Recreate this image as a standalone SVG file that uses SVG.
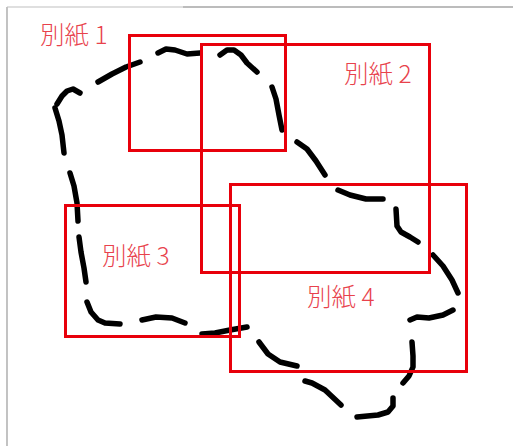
<svg xmlns="http://www.w3.org/2000/svg" width="513" height="446" viewBox="0 0 513 446">
<style>
.frame{stroke:#9a9a9a;stroke-width:1.2;fill:none}
.blob path{fill:none;stroke:#000;stroke-width:5.5;stroke-linecap:round;stroke-linejoin:round}
.sheet rect{fill:none;stroke:#e8000b;stroke-width:3}
.lbl{font-family:"Noto Sans CJK JP","Liberation Sans",sans-serif;font-size:24.5px;fill:#e8424c;font-weight:300}
</style>
<rect width="513" height="446" fill="#fff"/>
<g id="frame">
<line class="frame" x1="7" y1="7" x2="7" y2="446"/>
<line class="frame" x1="7" y1="7" x2="183" y2="7" style="stroke:#c0c0c0"/>
<line class="frame" x1="183" y1="7" x2="513" y2="7" style="stroke:#7a7a7a"/>
</g>
<g id="outline" class="blob">
<path d="M57,104 L62,96 L67,91 L73,89 L80,93"/>
<path d="M55,108 L59,121 L62,135 L64,153"/>
<path d="M70,173 L74,186 L77,203 L78,221"/>
<path d="M79,237 L81,252 L84,268 L86,282"/>
<path d="M87,302 L91,312 L98,320 L105,323 L120,324"/>
<path d="M142,320 L156,317 L172,318 L185,323"/>
<path d="M202,334 L215,333 L230,330 L247,327"/>
<path d="M259,342 L268,354 L280,362 L297,366"/>
<path d="M305,381 L312,383 L325,390 L341,405"/>
<path d="M357,417 L378,415 L388,412 L393,406 L393,398"/>
<path d="M403,383 L409,376 L413,367 L413,356 L412,342"/>
<path d="M410,320 L417,317 L429,318 L443,315 L453,310"/>
<path d="M433,255 L443,266 L452,280 L458,293"/>
<path d="M396,209 L397,226 L401,232 L410,237 L418,242"/>
<path d="M338,190 L350,195 L366,199 L383,199"/>
<path d="M297,142 L307,149 L316,161 L325,175"/>
<path d="M272,87 L276,99 L279,115 L282,130"/>
<path d="M220,55 L227,50 L234,50 L241,55 L247,63 L257,72"/>
<path d="M158,53 L166,49 L175,50 L187,54 L200,53"/>
<path d="M98,82 L112,74 L126,67 L140,62"/>
</g>
<g id="sheet1" class="sheet"><rect x="129.5" y="35.5" width="156" height="115"/><text class="lbl" x="40" y="44">別紙 1</text></g>
<g id="sheet2" class="sheet"><rect x="201.5" y="44.5" width="228" height="228"/><text class="lbl" x="344" y="83">別紙 2</text></g>
<g id="sheet3" class="sheet"><rect x="65.5" y="205.5" width="174" height="131"/><text class="lbl" x="102" y="265">別紙 3</text></g>
<g id="sheet4" class="sheet"><rect x="230.5" y="184.5" width="236" height="187"/><text class="lbl" x="307" y="306">別紙 4</text></g>
</svg>
